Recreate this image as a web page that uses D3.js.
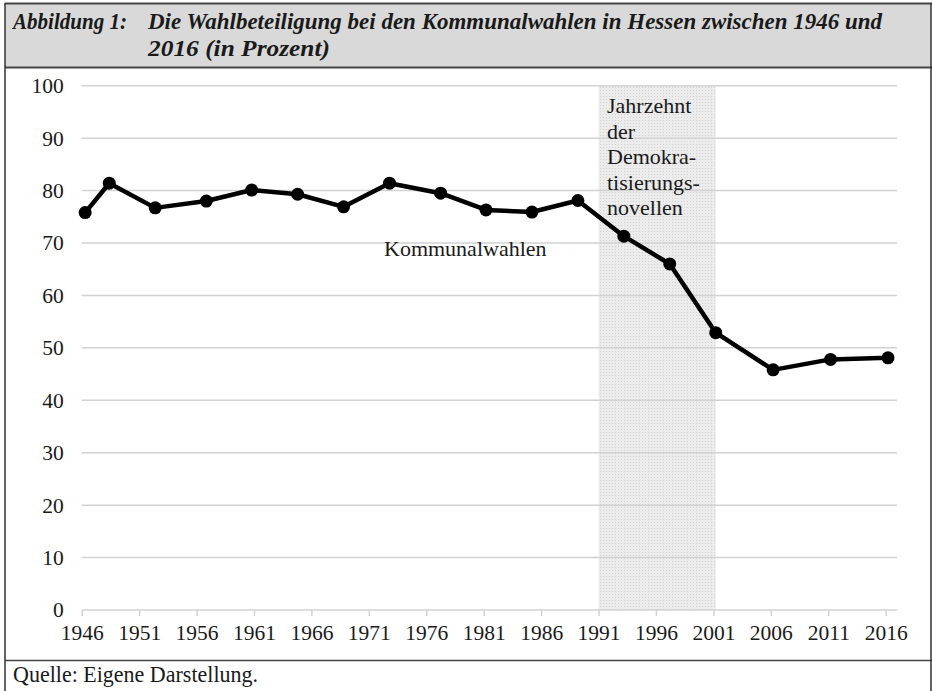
<!DOCTYPE html>
<html>
<head>
<meta charset="utf-8">
<script src="https://cdn.jsdelivr.net/npm/d3@7"></script>
<style>
  body { margin: 0; background: #fff; }
  text { font-family: 'Liberation Serif', 'Times New Roman', serif; }
</style>
</head>
<body>
<div id="main"></div>
<script>
/*********************************************************
 * Data
 *********************************************************/
// election dates as decimal years (read from the point positions)
const electionYears = [1946.3, 1948.4, 1952.4, 1956.85, 1960.8, 1964.8, 1968.8, 1972.8, 1977.25,
  1981.2, 1985.2, 1989.2, 1993.2, 1997.2, 2001.2, 2006.2, 2011.2, 2016.2];
const turnout = [75.8, 81.4, 76.7, 78.0, 80.1, 79.3, 76.9, 81.4, 79.5,
  76.3, 75.9, 78.1, 71.3, 66.0, 52.9, 45.8, 47.8, 48.1];
const xTickYears = [1946, 1951, 1956, 1961, 1966, 1971, 1976, 1981, 1986, 1991, 1996, 2001, 2006, 2011, 2016];
const yTicks = [0, 10, 20, 30, 40, 50, 60, 70, 80, 90, 100];
const bandYears = [1991, 2001.2];
const bandLabel = ['Jahrzehnt', 'der', 'Demokra-', 'tisierungs-', 'novellen'];
const seriesLabel = 'Kommunalwahlen';
const titleLabel = 'Abbildung 1:';
const titleLines = ['Die Wahlbeteiligung bei den Kommunalwahlen in Hessen zwischen 1946 und', '2016 (in Prozent)'];
const sourceLabel = 'Quelle: Eigene Darstellung.';

/*********************************************************
 * Layout
 *********************************************************/
const svgWidth = 932;
const svgHeight = 691;
const plot = { l: 81.7, r: 897, t: 85.7, b: 610 };

const svg = d3.select('#main')
  .append('svg')
  .attr('width', svgWidth)
  .attr('height', svgHeight);

const x = d3.scaleLinear()
  .domain([1946, 2016])
  .range([plot.l, 885.7]);

const y = d3.scaleLinear()
  .domain([0, 100])
  .range([plot.b, plot.t]);

/*********************************************************
 * Frame, title box and footer
 *********************************************************/
svg.append('rect')
  .attr('x', 5).attr('y', 3.5)
  .attr('width', 926).attr('height', 64)
  .attr('fill', '#d9d9d9');

svg.append('line')
  .attr('x1', 5).attr('x2', 932).attr('y1', 3.5).attr('y2', 3.5)
  .attr('stroke', '#444').attr('stroke-width', 2);
svg.append('line')
  .attr('x1', 5).attr('x2', 932).attr('y1', 67.5).attr('y2', 67.5)
  .attr('stroke', '#444').attr('stroke-width', 2);
svg.append('line')
  .attr('x1', 5).attr('x2', 932).attr('y1', 660.5).attr('y2', 660.5)
  .attr('stroke', '#444').attr('stroke-width', 1.5);
svg.append('line')
  .attr('x1', 5).attr('x2', 5).attr('y1', 3).attr('y2', svgHeight)
  .attr('stroke', '#333').attr('stroke-width', 1.5);
svg.append('line')
  .attr('x1', 931).attr('x2', 931).attr('y1', 3).attr('y2', svgHeight)
  .attr('stroke', '#333').attr('stroke-width', 1.5);

const titleG = svg.append('g')
  .style('font-weight', 'bold')
  .style('font-style', 'italic')
  .style('font-size', '22.5px')
  .attr('fill', '#1a1a1a');

titleG.append('text')
  .attr('x', 13).attr('y', 28.5)
  .attr('textLength', 114)
  .attr('lengthAdjust', 'spacingAndGlyphs')
  .text(titleLabel);

titleG.selectAll('.tline')
  .data(titleLines)
  .enter().append('text')
  .attr('class', 'tline')
  .attr('x', 148)
  .attr('y', (d, i) => 28.5 + i * 27.5)
  .attr('textLength', (d, i) => i === 0 ? 734 : 182)
  .attr('lengthAdjust', 'spacingAndGlyphs')
  .text(d => d);

svg.append('text')
  .attr('x', 13).attr('y', 682)
  .style('font-size', '22.5px')
  .attr('fill', '#1a1a1a')
  .attr('textLength', 245)
  .attr('lengthAdjust', 'spacingAndGlyphs')
  .text(sourceLabel);

/*********************************************************
 * Shaded band
 *********************************************************/
const defs = svg.append('defs');
const pat = defs.append('pattern')
  .attr('id', 'dots')
  .attr('width', 3).attr('height', 3)
  .attr('patternUnits', 'userSpaceOnUse');
pat.append('rect').attr('width', 3).attr('height', 3).attr('fill', '#ececec');
pat.append('rect').attr('width', 1).attr('height', 1).attr('fill', '#d2d2d2');

svg.append('rect')
  .attr('x', x(bandYears[0]))
  .attr('y', y(100))
  .attr('width', x(bandYears[1]) - x(bandYears[0]))
  .attr('height', y(0) - y(100))
  .attr('fill', 'url(#dots)');

/*********************************************************
 * Grid and axes
 *********************************************************/
svg.append('g')
  .selectAll('line')
  .data(yTicks.filter(d => d > 0))
  .enter().append('line')
  .attr('x1', plot.l).attr('x2', plot.r)
  .attr('y1', d => y(d)).attr('y2', d => y(d))
  .attr('stroke', '#d2d2d2')
  .attr('stroke-width', 1.5);

const yAxis = d3.axisLeft(y)
  .tickValues(yTicks)
  .tickSize(0)
  .tickPadding(18);

const gY = svg.append('g')
  .attr('transform', `translate(${plot.l},0)`)
  .call(yAxis);
gY.select('.domain').remove();
gY.selectAll('text')
  .style('font-family', "'Liberation Serif', serif")
  .style('font-size', '21.5px')
  .attr('fill', '#1a1a1a')
  .attr('dy', '0.32em');

const xAxis = d3.axisBottom(x)
  .tickValues(xTickYears)
  .tickFormat(d3.format('d'))
  .tickSize(6)
  .tickPadding(9);

const gX = svg.append('g')
  .attr('transform', `translate(0,${plot.b})`)
  .call(xAxis);
gX.select('.domain')
  .attr('d', `M${plot.l},0H${plot.r}`)
  .attr('stroke', '#d2d2d2')
  .attr('stroke-width', 1.5);
gX.selectAll('.tick line')
  .attr('stroke', '#d2d2d2')
  .attr('stroke-width', 1.5);
gX.selectAll('text')
  .style('font-family', "'Liberation Serif', serif")
  .style('font-size', '21.5px')
  .attr('fill', '#1a1a1a');

/*********************************************************
 * Series line and markers
 *********************************************************/
const points = electionYears.map((d, i) => ({ year: d, value: turnout[i] }));

const line = d3.line()
  .x(d => x(d.year))
  .y(d => y(d.value));

svg.append('path')
  .datum(points)
  .attr('d', line)
  .attr('fill', 'none')
  .attr('stroke', '#000')
  .attr('stroke-width', 4.5)
  .attr('stroke-linejoin', 'round');

svg.selectAll('.dot')
  .data(points)
  .enter().append('circle')
  .attr('class', 'dot')
  .attr('cx', d => x(d.year))
  .attr('cy', d => y(d.value))
  .attr('r', 6.5)
  .attr('fill', '#000');

/*********************************************************
 * Annotations
 *********************************************************/
svg.append('text')
  .attr('x', 384).attr('y', 256)
  .style('font-size', '22px')
  .attr('fill', '#1a1a1a')
  .text(seriesLabel);

svg.selectAll('.band-label')
  .data(bandLabel)
  .enter().append('text')
  .attr('class', 'band-label')
  .attr('x', 607)
  .attr('y', (d, i) => 113 + i * 25.5)
  .style('font-size', '22px')
  .attr('fill', '#1a1a1a')
  .text(d => d);
</script>
</body>
</html>
